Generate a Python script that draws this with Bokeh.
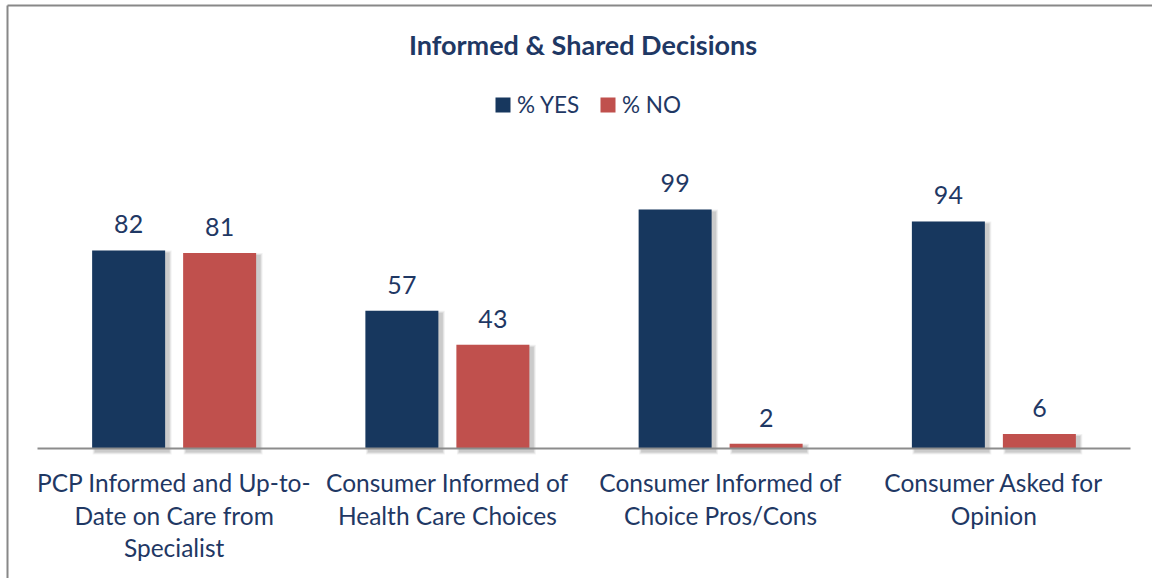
from bokeh.plotting import figure
from bokeh.models import Range1d
from bokeh.core.properties import value
from bokeh.embed import file_html
from bokeh.resources import INLINE

# ---- data ----
categories = ["PCP Informed and Up-to-\nDate on Care from\nSpecialist",
              "Consumer Informed of\nHealth Care Choices",
              "Consumer Informed of\nChoice Pros/Cons",
              "Consumer Asked for\nOpinion"]
yes_values = [82, 57, 99, 94]
no_values = [81, 43, 2, 6]
series_names = ["% YES", "% NO"]
title_text = "Informed & Shared Decisions"

YES_COLOR = "#17375E"
NO_COLOR = "#C0504D"
TEXT_COLOR = "#1F3864"
FONT = "Lato"

W, H = 1152, 578
# pixel layout of plot area
left_px, right_px, base_px = 37, 1130, 448
ppx = (right_px - left_px) / len(categories)   # pixels per category
ppy = 2.415                                      # pixels per value unit

x0 = -left_px / ppx
x1 = len(categories) + (W - right_px) / ppx
y1 = base_px / ppy
y0 = -(H - base_px) / ppy

def X(px):
    return x0 + px / ppx

def Y(py):
    return y1 - py / ppy

def dx(px):
    return px / ppx

def dy(py):
    return py / ppy

p = figure(width=W, height=H, output_backend="svg", toolbar_location=None,
           x_range=Range1d(x0, x1), y_range=Range1d(y0, y1),
           min_border=0, min_border_left=0, min_border_right=0,
           min_border_top=0, min_border_bottom=0)
p.xaxis.visible = False
p.yaxis.visible = False
p.xgrid.visible = False
p.ygrid.visible = False
p.outline_line_color = None
p.background_fill_color = "white"
p.border_fill_color = "white"

n = len(categories)
centers = [i + 0.5 for i in range(n)]
bw = dx(73)
off = dx(45.5)
x_yes = [c - off for c in centers]
x_no = [c + off for c in centers]

# shadows
for k, a in [(6, 0.05), (4, 0.07), (2, 0.09)]:
    for xs, vals in [(x_yes, yes_values), (x_no, no_values)]:
        p.vbar(x=[x + dx(3.5) for x in xs], width=bw + dx(k), top=[v - dy(3) + dy(k / 2) for v in vals],
               bottom=-dy(3 + k / 2), fill_color="#000000", fill_alpha=a, line_color=None)

p.vbar(x=x_yes, width=bw, top=yes_values, bottom=0, fill_color=YES_COLOR, line_color=None)
p.vbar(x=x_no, width=bw, top=no_values, bottom=0, fill_color=NO_COLOR, line_color=None)

# axis line
p.segment(x0=[0], y0=[0], x1=[n], y1=[0], line_color="#8C8C8C", line_width=2)

# value labels
lab_kw = dict(text_font=value(FONT), text_font_size="25px", text_color=TEXT_COLOR,
              text_align="center", text_baseline="middle")
p.text(x=x_yes, y=yes_values, text=[str(v) for v in yes_values], y_offset=-26, **lab_kw)
p.text(x=x_no, y=no_values, text=[str(v) for v in no_values], y_offset=-26, **lab_kw)

# category labels
for c, cat in zip(centers, categories):
    for j, line in enumerate(cat.split("\n")):
        p.text(x=[c], y=[0], text=[line], y_offset=34 + 32.5 * j,
               text_font=value(FONT), text_font_size="24.5px", text_color=TEXT_COLOR,
               text_align="center", text_baseline="middle")

# title
p.text(x=[X(582.5)], y=[Y(44)], text=[title_text], text_font=value(FONT),
       text_font_size="27px", text_font_style="bold", text_color=TEXT_COLOR,
       text_align="center", text_baseline="middle")

# legend
leg_colors = [YES_COLOR, NO_COLOR]
leg_sq_px = [502.5, 607.5]
for name, col, sx in zip(series_names, leg_colors, leg_sq_px):
    p.scatter(x=[X(sx)], y=[Y(104.5)], marker="square", size=15, fill_color=col, line_color=None)
    p.text(x=[X(sx + 14)], y=[Y(104)], text=[name], text_font=value(FONT),
           text_font_size="22.5px", text_color=TEXT_COLOR, text_align="left", text_baseline="middle")

# chart border (left and top edges)
p.segment(x0=[X(7)], y0=[Y(5)], x1=[X(7)], y1=[Y(H + 5)], line_color="#888888", line_width=2)
p.segment(x0=[X(7)], y0=[Y(5)], x1=[X(W + 5)], y1=[Y(5)], line_color="#888888", line_width=2)

open("out.html", "w").write(file_html(p, INLINE))
